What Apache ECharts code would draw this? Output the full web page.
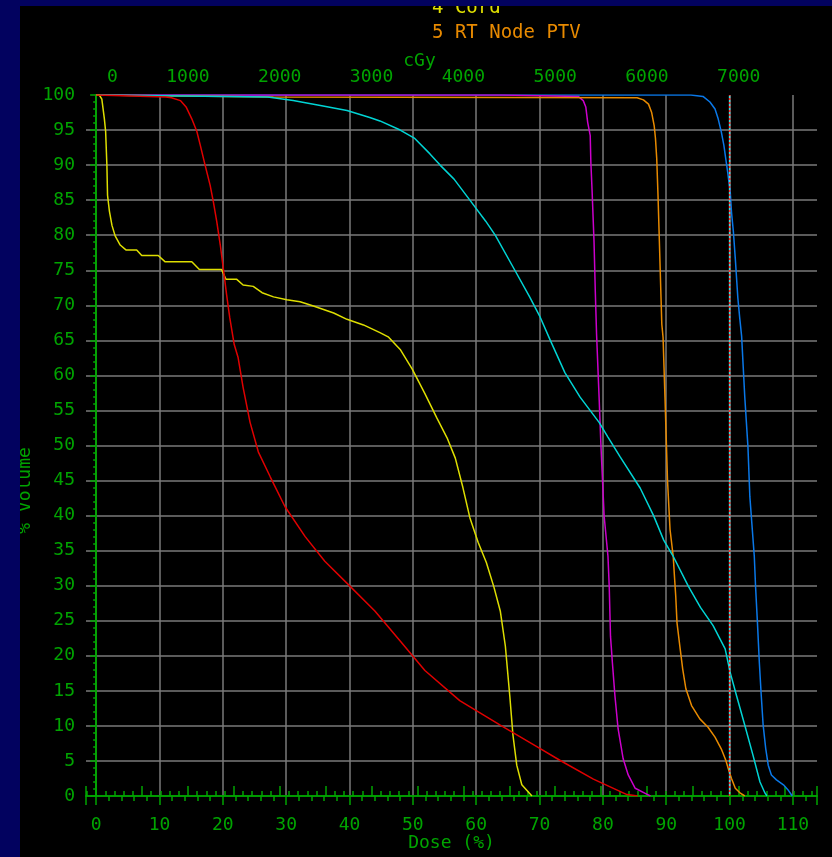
<!DOCTYPE html>
<html><head><meta charset="utf-8">
<script src="https://cdn.jsdelivr.net/npm/echarts@6/dist/echarts.min.js"></script>
<style>html,body{margin:0;padding:0;background:#000;}#c{width:832px;height:857px;}</style>
</head><body><div id="c"></div>
<script>
// ---- data (Dose % vs % Volume) ----
const cordDose = [0, 0.5, 0.9, 1.3, 1.5, 1.7, 1.8, 2.1, 2.5, 3.0, 3.8, 4.7, 6.4, 7.2, 9.8, 10.9, 15.1, 16.3, 19.8, 20.5, 22.2, 23.2, 24.8, 26.2, 28.0, 30.1, 32.2, 34.3, 37.5, 39.6, 42.2, 44.8, 46.1, 48.0, 49.9, 51.9, 53.8, 55.4, 56.7, 57.9, 59.0, 60.3, 61.6, 62.8, 63.8, 64.6, 65.3, 65.8, 66.4, 67.2, 68.8];
const cordVolume = [100, 100, 99.4, 96.6, 94.8, 89.9, 85.7, 83.4, 81.4, 79.9, 78.6, 77.9, 77.9, 77.1, 77.1, 76.2, 76.2, 75.1, 75.1, 73.7, 73.7, 72.9, 72.7, 71.8, 71.2, 70.8, 70.5, 69.9, 68.9, 68.0, 67.2, 66.1, 65.5, 63.7, 60.9, 57.4, 53.9, 51.1, 48.2, 44.0, 39.7, 36.2, 33.3, 29.8, 26.4, 21.4, 14.3, 8.7, 4.4, 1.6, 0];

const redDose = [0, 11.0, 11.9, 13.3, 14.2, 15.1, 15.9, 16.4, 17.2, 18.0, 18.5, 19.05, 19.6, 20.1, 20.6, 21.1, 21.8, 22.4, 23.2, 24.3, 25.6, 27.5, 29.8, 33.0, 36.1, 40.1, 44.0, 48.0, 51.9, 57.4, 63.8, 69.3, 73.2, 78.5, 83.8, 85.5];
const redVolume = [100, 99.7, 99.6, 99.2, 98.3, 96.6, 94.8, 93.0, 90.0, 87.1, 84.8, 81.9, 78.6, 75.1, 71.5, 68.2, 64.4, 62.6, 58.3, 53.3, 49.1, 45.5, 41.3, 37.0, 33.5, 29.9, 26.4, 22.1, 17.9, 13.6, 10.1, 7.2, 5.1, 2.4, 0.2, 0];

const cyanDose = [0, 27.1, 31.1, 35.4, 39.6, 43.2, 44.8, 48.0, 50.3, 52.7, 54.3, 56.5, 59.0, 61.5, 63.0, 66.1, 68.5, 70.0, 71.7, 74.0, 76.4, 79.4, 80.8, 82.7, 85.9, 88.0, 89.6, 91.1, 93.5, 95.4, 97.4, 99.3, 100.1, 101.1, 102.4, 103.7, 104.8, 105.6, 105.9];
const cyanVolume = [100, 99.7, 99.2, 98.5, 97.8, 96.8, 96.3, 95.0, 93.8, 91.6, 90.0, 88.0, 85.0, 82.0, 80.0, 75.0, 71.1, 68.5, 65.0, 60.4, 56.9, 53.3, 51.2, 48.4, 43.9, 40.0, 36.5, 34.2, 29.9, 26.9, 24.3, 21.0, 17.6, 14.3, 10.1, 5.8, 2.0, 0.4, 0];

const magentaDose = [0, 64.1, 76.1, 76.9, 77.3, 77.6, 78.0, 78.1, 78.3, 78.6, 78.8, 79.0, 79.4, 79.7, 80.2, 80.8, 81.0, 81.2, 81.5, 81.9, 82.4, 83.2, 84.0, 85.1, 86.6, 87.5];
const magentaVolume = [100, 100, 99.8, 99.2, 98.3, 96.1, 94.2, 90.4, 86.2, 79.1, 72.0, 65.9, 56.9, 49.8, 39.9, 34.2, 29.9, 22.8, 19.0, 14.3, 9.6, 5.3, 3.0, 1.1, 0.4, 0];

const nodePtvDose = [0, 28.0, 85.4, 86.4, 87.2, 87.7, 88.1, 88.3, 88.5, 88.7, 88.9, 89.1, 89.3, 89.5, 89.8, 90.2, 90.6, 91.1, 91.3, 91.5, 91.7, 92.2, 92.6, 93.1, 94.0, 95.3, 96.6, 97.7, 98.7, 99.4, 99.8, 100.3, 100.9, 101.7, 102.4];
const nodePtvVolume = [100, 99.7, 99.6, 99.3, 98.7, 97.5, 95.6, 93.8, 90.9, 85.7, 79.6, 73.4, 67.3, 65.4, 56.9, 45.0, 38.0, 34.2, 31.3, 28.5, 24.7, 21.0, 18.1, 15.3, 12.9, 11.0, 9.8, 8.4, 6.7, 5.1, 3.9, 2.5, 1.1, 0.4, 0];

const blueDose = [0, 93.9, 95.8, 96.9, 97.7, 98.2, 98.7, 99.1, 99.4, 99.7, 100.1, 100.3, 100.6, 100.9, 101.1, 101.3, 101.6, 101.9, 102.4, 102.9, 103.2, 103.9, 104.1, 104.4, 104.7, 105.0, 105.3, 105.7, 106.1, 106.6, 107.4, 108.5, 109.2, 109.9];
const blueVolume = [100, 100, 99.8, 99.0, 98.0, 96.6, 94.7, 92.8, 90.9, 89.0, 86.2, 83.3, 80.5, 76.7, 73.9, 71.1, 68.2, 65.6, 56.9, 49.8, 42.7, 34.2, 29.9, 24.7, 19.0, 14.3, 10.1, 6.8, 4.4, 3.0, 2.3, 1.6, 0.9, 0];

const refDose = [100, 100];
const refVolume = [0, 100];

const doseTickLabels = [0, 10, 20, 30, 40, 50, 60, 70, 80, 90, 100, 110];
const cGyTickLabels = [0, 1000, 2000, 3000, 4000, 5000, 6000, 7000];
const legendLabels = ['4 Cord', '5 RT Node PTV'];

// ---- axis settings ----
const doseMin = -1.6, doseMax = 113.8, cGyPerPercent = 69;
const GREEN = '#00a400', GRAY = '#7a7a7a', NAVY = '#02025f';
const FONT = 'DejaVu Sans Mono';

const pairs = (xs, ys) => xs.map((x, i) => [x, ys[i]]);
const lineSeries = (name, xs, ys, color, extra) => Object.assign({
  name, type: 'line', xAxisIndex: 0, yAxisIndex: 0,
  data: pairs(xs, ys), showSymbol: false, symbol: 'none',
  lineStyle: { color, width: 1.5 }, itemStyle: { color }, animation: false, silent: true
}, extra || {});

const chart = echarts.init(document.getElementById('c'), null, { renderer: 'canvas' });
chart.setOption({
  backgroundColor: '#000',
  animation: false,
  textStyle: { fontFamily: FONT },
  title: [
    { text: legendLabels[0], left: 432, top: -1, padding: 0, textStyle: { color: '#e0e000', fontFamily: FONT, fontSize: 19, fontWeight: 'normal' } },
    { text: legendLabels[1], left: 432, top: 24, padding: 0, textStyle: { color: '#e88a00', fontFamily: FONT, fontSize: 19, fontWeight: 'normal' } }
  ],
  grid: { left: 86, right: 15, top: 95, bottom: 56, containLabel: false },
  xAxis: [
    {
      type: 'value', position: 'bottom', min: doseMin, max: doseMax,
      splitNumber: 11, minInterval: 10, maxInterval: 10, z: 1,
      name: 'Dose (%)', nameLocation: 'middle', nameGap: 38, nameMoveOverlap: false,
      nameTextStyle: { color: GREEN, fontFamily: FONT, fontSize: 18 },
      axisLine: { show: true, lineStyle: { color: GREEN, width: 1.5 } },
      axisTick: { show: true, length: 9, lineStyle: { color: GREEN, width: 1.5 } },
      minorTick: { show: true, splitNumber: 5, length: 5, lineStyle: { color: GREEN, width: 1.5 } },
      axisLabel: {
        show: true, margin: 20, color: GREEN, fontFamily: FONT, fontSize: 18,
        showMinLabel: false, showMaxLabel: false,
        formatter: v => doseTickLabels.includes(Math.round(v * 1000) / 1000) ? String(v) : ''
      },
      splitLine: { show: true, showMinLine: false, showMaxLine: false, lineStyle: { color: GRAY, width: 1.5 } }
    },
    {
      type: 'value', position: 'top', min: doseMin * cGyPerPercent, max: doseMax * cGyPerPercent,
      minInterval: 500, maxInterval: 500, splitNumber: 16, z: 1,
      name: 'cGy', nameLocation: 'middle', nameGap: 25, nameMoveOverlap: false,
      nameTextStyle: { color: GREEN, fontFamily: FONT, fontSize: 18, padding: [0, 64, 0, 0] },
      axisLine: { show: true, lineStyle: { color: GREEN, width: 1.5 } },
      axisTick: { show: true, length: 10, lineStyle: { color: GREEN, width: 1.5 } },
      minorTick: { show: true, splitNumber: 5, length: 5, lineStyle: { color: GREEN, width: 1.5 } },
      axisLabel: {
        show: true, margin: 9, color: GREEN, fontFamily: FONT, fontSize: 18,
        showMinLabel: false, showMaxLabel: false,
        formatter: v => cGyTickLabels.includes(Math.round(v)) ? String(Math.round(v)).padStart(4, ' ') : ''
      },
      splitLine: { show: false }
    }
  ],
  yAxis: [
    {
      type: 'value', position: 'left', min: 0, max: 100, interval: 5, z: 1,
      name: '% Volume', nameLocation: 'middle', nameGap: 52, nameMoveOverlap: false,
      nameTextStyle: { color: GREEN, fontFamily: FONT, fontSize: 18, padding: [0, 90, 0, 0] },
      axisLine: { show: true, lineStyle: { color: GREEN, width: 1.5 } },
      axisTick: { show: true, length: 6, lineStyle: { color: GREEN, width: 1.5 } },
      minorTick: { show: true, splitNumber: 5, length: 3, lineStyle: { color: GREEN, width: 1.5 } },
      axisLabel: { show: true, margin: 11, color: GREEN, fontFamily: FONT, fontSize: 18 },
      splitLine: { show: true, showMinLine: false, showMaxLine: false, lineStyle: { color: GRAY, width: 1.5 } }
    },
    {
      type: 'value', position: 'right', min: 0, max: 100, z: 1,
      axisLine: { show: true, lineStyle: { color: GREEN, width: 1.5 } },
      axisTick: { show: false }, axisLabel: { show: false }, splitLine: { show: false }
    }
  ],
  graphic: {
    elements: [
      { type: 'rect', z: 100, silent: true, shape: { x: 0, y: 0, width: 20, height: 857 }, style: { fill: NAVY } },
      { type: 'rect', z: 100, silent: true, shape: { x: 0, y: 0, width: 832, height: 6 }, style: { fill: NAVY } }
    ]
  },
  series: [
    lineSeries('Blue', blueDose, blueVolume, '#0a78e8'),
    lineSeries('Magenta', magentaDose, magentaVolume, '#cc00cc'),
    lineSeries('RT Node PTV', nodePtvDose, nodePtvVolume, '#e88a00'),
    lineSeries('Cyan', cyanDose, cyanVolume, '#00d4d4'),
    lineSeries('Cord', cordDose, cordVolume, '#dede00'),
    lineSeries('Red', redDose, redVolume, '#e00000'),
    lineSeries('Ref 100%', refDose, refVolume, '#ff3030', { lineStyle: { color: '#ff3030', width: 1.5, type: [2, 2] } }),
    lineSeries('Ref 100% b', refDose, refVolume, '#40e0e0', { lineStyle: { color: '#40e0e0', width: 1.5, type: [2, 2], dashOffset: 2 } })
  ]
});
</script>
</body></html>
